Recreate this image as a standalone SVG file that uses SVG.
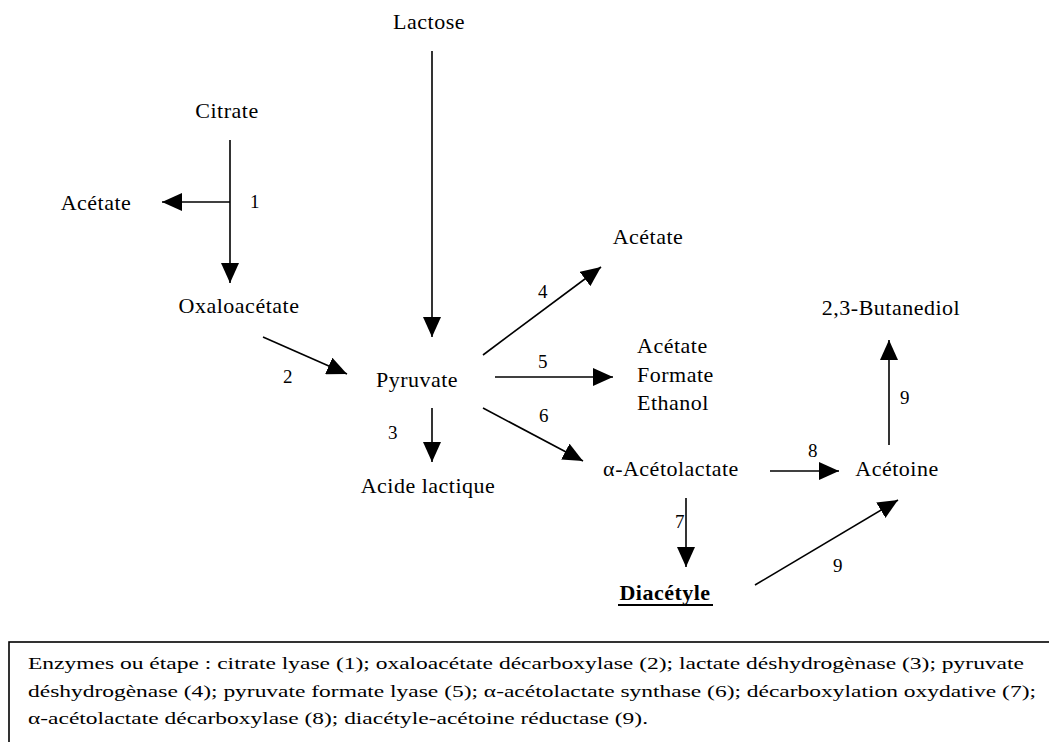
<svg xmlns="http://www.w3.org/2000/svg" width="1049" height="742" viewBox="0 0 1049 742" font-family="'Liberation Serif', serif">
  <style>
    text { font-family: 'Liberation Serif', serif; fill: #000; }
    .lbl { font-size: 22px; letter-spacing: 0.5px; }
    .num { font-size: 19px; }
    .leg { font-size: 17px; }
    .edge { stroke: #000; stroke-width: 1.6; fill: none; marker-end: url(#head); }
  </style>
  <defs>
    <marker id="head" viewBox="0 0 20 18" refX="20" refY="9" markerWidth="20" markerHeight="18" markerUnits="userSpaceOnUse" orient="auto">
      <path d="M0,0 L20,9 L0,18 z" fill="#000"/>
    </marker>
  </defs>
  <rect width="1049" height="742" fill="#fff"/>

  <!-- metabolites -->
  <g id="lactose"><text class="lbl" x="429" y="29" text-anchor="middle">Lactose</text></g>
  <g id="citrate"><text class="lbl" x="227" y="118" text-anchor="middle">Citrate</text></g>
  <g id="acetate-1"><text class="lbl" x="96" y="210" text-anchor="middle">Acétate</text></g>
  <g id="oxaloacetate"><text class="lbl" x="239" y="313" text-anchor="middle">Oxaloacétate</text></g>
  <g id="pyruvate"><text class="lbl" x="417" y="387" text-anchor="middle">Pyruvate</text></g>
  <g id="acide-lactique"><text class="lbl" x="428" y="493" text-anchor="middle">Acide lactique</text></g>
  <g id="acetate-4"><text class="lbl" x="648" y="244" text-anchor="middle">Acétate</text></g>
  <g id="acetate-formate-ethanol">
    <text class="lbl" x="637" y="353">Acétate</text>
    <text class="lbl" x="637" y="382">Formate</text>
    <text class="lbl" x="637" y="410">Ethanol</text>
  </g>
  <g id="acetolactate"><text class="lbl" x="671" y="476" text-anchor="middle">α-Acétolactate</text></g>
  <g id="acetoine"><text class="lbl" x="897" y="476" text-anchor="middle">Acétoine</text></g>
  <g id="diacetyle">
    <text class="lbl" x="665" y="600" text-anchor="middle" font-weight="bold">Diacétyle</text>
    <line x1="618" y1="605" x2="713" y2="605" stroke="#000" stroke-width="2"/>
  </g>
  <g id="butanediol"><text class="lbl" x="891" y="315" text-anchor="middle">2,3-Butanediol</text></g>

  <!-- reactions -->
  <g id="connectors">
    <line class="edge" x1="432" y1="51" x2="432" y2="337"/>
    <line class="edge" x1="230" y1="140" x2="230" y2="283"/>
    <line class="edge" x1="230" y1="202" x2="162" y2="202"/>
    <line class="edge" x1="263" y1="337" x2="347" y2="374"/>
    <line class="edge" x1="432" y1="408" x2="432" y2="462"/>
    <line class="edge" x1="483" y1="355" x2="601" y2="267"/>
    <line class="edge" x1="495" y1="377" x2="613" y2="377"/>
    <line class="edge" x1="483" y1="408" x2="583" y2="461"/>
    <line class="edge" x1="770" y1="471" x2="839" y2="471"/>
    <line class="edge" x1="686" y1="498" x2="686" y2="567"/>
    <line class="edge" x1="755" y1="585" x2="898" y2="500"/>
    <line class="edge" x1="889" y1="445" x2="889" y2="340"/>
  </g>

  <!-- step numbers -->
  <g id="steps">
    <text class="num" x="250" y="208">1</text>
    <text class="num" x="283" y="383">2</text>
    <text class="num" x="388" y="439">3</text>
    <text class="num" x="538" y="298">4</text>
    <text class="num" x="538" y="368">5</text>
    <text class="num" x="539" y="422">6</text>
    <text class="num" x="675" y="528">7</text>
    <text class="num" x="808" y="457">8</text>
    <text class="num" x="900" y="404">9</text>
    <text class="num" x="833" y="572">9</text>
  </g>

  <!-- enzyme legend -->
  <g id="legend">
    <rect x="9" y="642" width="1050" height="120" fill="none" stroke="#000" stroke-width="1.6"/>
    <text class="leg" x="28" y="669" textLength="996" lengthAdjust="spacingAndGlyphs">Enzymes ou étape : citrate lyase (1); oxaloacétate décarboxylase (2); lactate déshydrogènase (3); pyruvate</text>
    <text class="leg" x="28" y="697" textLength="1008" lengthAdjust="spacingAndGlyphs">déshydrogènase (4); pyruvate formate lyase (5); α-acétolactate synthase (6); décarboxylation oxydative (7);</text>
    <text class="leg" x="28" y="724" textLength="620" lengthAdjust="spacingAndGlyphs">α-acétolactate décarboxylase (8); diacétyle-acétoine réductase (9).</text>
  </g>
</svg>
